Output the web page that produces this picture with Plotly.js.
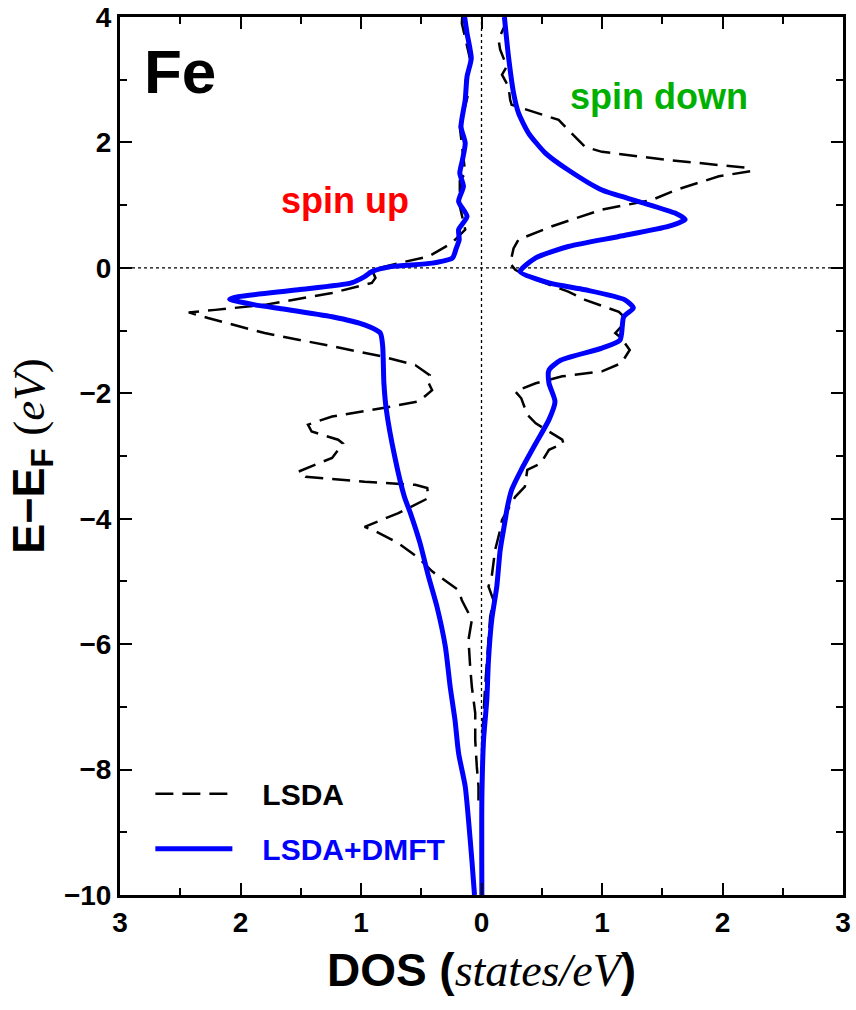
<!DOCTYPE html>
<html>
<head>
<meta charset="utf-8">
<script src="https://cdn.plot.ly/plotly-3.0.1.min.js"></script>
<style>html,body{margin:0;padding:0;background:#fff;}#chart{width:856px;height:1010px;}</style>
</head>
<body>
<div id="chart"></div>
<script>
// ---- Data (energy E-EF in eV, DOS in states/eV; spin-up values are magnitudes, drawn to the left) ----
const xTickVals = [-3, -2, -1, 0, 1, 2, 3];
const xTickText = ['3', '2', '1', '0', '1', '2', '3'];

const lsdaUpE = [4.0, 3.90, 3.32, 2.95, 2.79, 2.25, 1.51, 1.39, 0.98, 0.61, 0.39, 0.18, 0.075, -0.03, -0.16, -0.24, -0.40, -0.59, -0.67, -0.71, -0.80, -1.04, -1.25, -1.41, -1.55, -1.71, -1.79, -1.95, -2.13, -2.24, -2.37, -2.50, -2.61, -2.74, -2.80, -3.03, -3.25, -3.33, -3.41, -3.46, -3.51, -3.67, -3.91, -4.13, -4.20, -4.39, -4.63, -4.84, -5.14, -5.30, -5.61, -5.93, -6.36, -6.68, -7.10, -7.53, -7.95, -8.27, -8.54];
const lsdaUpDos = [0.16, 0.163, 0.094, 0.135, 0.108, 0.18, 0.135, 0.18, 0.18, 0.135, 0.25, 0.44, 0.69, 0.91, 0.88, 0.91, 1.24, 1.80, 2.21, 2.43, 2.27, 1.80, 1.24, 0.83, 0.55, 0.43, 0.45, 0.41, 0.52, 0.83, 1.24, 1.44, 1.41, 1.19, 1.15, 1.24, 1.52, 1.46, 0.97, 0.55, 0.45, 0.44, 0.69, 0.97, 0.88, 0.69, 0.52, 0.41, 0.19, 0.163, 0.08, 0.108, 0.094, 0.08, 0.052, 0.052, 0.039, 0.025, 0.025];

const lsdaDnE = [4.0, 3.88, 3.64, 3.48, 3.21, 3.08, 2.89, 2.68, 2.60, 2.36, 2.20, 2.09, 1.93, 1.85, 1.72, 1.59, 1.54, 1.46, 1.24, 1.08, 0.93, 0.66, 0.45, 0.31, 0.07, -0.03, -0.15, -0.38, -0.51, -0.70, -0.83, -1.04, -1.12, -1.31, -1.52, -1.65, -1.73, -1.84, -1.97, -2.08, -2.34, -2.48, -2.74, -2.80, -2.90, -3.12, -3.22, -3.49, -3.65, -4.02, -4.18, -4.50, -4.92, -5.08, -5.30, -5.56, -5.93, -6.09, -6.68, -7.42];
const lsdaDnDos = [0.20, 0.197, 0.141, 0.155, 0.21, 0.17, 0.224, 0.238, 0.25, 0.64, 0.72, 0.78, 0.86, 1.0, 1.55, 2.23, 2.23, 1.97, 1.61, 1.41, 1.0, 0.58, 0.307, 0.266, 0.238, 0.28, 0.40, 0.72, 0.86, 1.14, 1.21, 1.11, 1.16, 1.23, 1.16, 1.0, 0.67, 0.45, 0.28, 0.33, 0.38, 0.45, 0.67, 0.68, 0.56, 0.49, 0.38, 0.36, 0.28, 0.17, 0.155, 0.113, 0.085, 0.058, 0.10, 0.072, 0.058, 0.052, 0.03, 0.008];

const dmftUpE = [4.0, 3.74, 3.34, 3.05, 2.68, 2.25, 1.99, 1.72, 1.51, 1.30, 1.06, 0.82, 0.61, 0.45, 0.31, 0.16, 0.075, 0.02, -0.06, -0.14, -0.24, -0.35, -0.46, -0.50, -0.59, -0.66, -0.78, -0.91, -1.04, -1.25, -1.84, -2.26, -3.01, -3.65, -3.91, -4.39, -4.92, -5.40, -6.04, -6.68, -7.21, -7.74, -8.27, -8.80, -9.44, -10.0];
const dmftUpDos = [0.14, 0.12, 0.085, 0.12, 0.135, 0.17, 0.135, 0.158, 0.18, 0.15, 0.19, 0.12, 0.19, 0.185, 0.21, 0.24, 0.41, 0.75, 0.91, 0.97, 1.08, 1.52, 2.02, 2.09, 1.88, 1.63, 1.24, 0.97, 0.84, 0.82, 0.81, 0.79, 0.72, 0.64, 0.59, 0.51, 0.44, 0.37, 0.30, 0.26, 0.22, 0.19, 0.135, 0.108, 0.08, 0.058];

const dmftDnE = [4.0, 3.37, 2.79, 2.47, 2.15, 1.83, 1.56, 1.24, 1.06, 0.87, 0.77, 0.66, 0.50, 0.34, 0.16, -0.06, -0.24, -0.35, -0.51, -0.64, -0.78, -1.15, -1.28, -1.47, -1.63, -1.84, -2.13, -2.42, -2.80, -3.22, -3.54, -3.86, -4.02, -4.50, -5.08, -5.61, -6.25, -6.89, -7.53, -8.48, -10.0];
const dmftDnDos = [0.19, 0.224, 0.266, 0.307, 0.39, 0.53, 0.72, 1.0, 1.30, 1.61, 1.69, 1.55, 1.14, 0.72, 0.45, 0.32, 0.56, 0.86, 1.19, 1.26, 1.18, 1.15, 1.0, 0.66, 0.56, 0.56, 0.61, 0.56, 0.45, 0.33, 0.25, 0.21, 0.197, 0.155, 0.127, 0.085, 0.058, 0.044, 0.017, 0.003, 0.003];

const seriesNames = ['LSDA', 'LSDA+DMFT'];

// ---- Styles ----
const FONT = 'Liberation Sans, Arial, Helvetica, sans-serif';
const SERIF = 'Liberation Serif, Times New Roman, serif';
const PAD = '\u00a0\u00a0\u00a0';
const neg = a => a.map(v => -v);
const dashLine = {color: 'black', width: 2.5, dash: '18px,9px'};
const blueLine = {color: '#0000ff', width: 5, shape: 'spline', smoothing: 0.6};

const traces = [
  {x: neg(lsdaUpDos), y: lsdaUpE, type: 'scatter', mode: 'lines', name: PAD + seriesNames[0], legendgroup: 'lsda', showlegend: true, line: dashLine},
  {x: lsdaDnDos, y: lsdaDnE, type: 'scatter', mode: 'lines', name: PAD + seriesNames[0], legendgroup: 'lsda', showlegend: false, line: dashLine},
  {x: neg(dmftUpDos), y: dmftUpE, type: 'scatter', mode: 'lines', name: PAD + seriesNames[1], legendgroup: 'dmft', showlegend: true, line: blueLine},
  {x: dmftDnDos, y: dmftDnE, type: 'scatter', mode: 'lines', name: PAD + seriesNames[1], legendgroup: 'dmft', showlegend: false, line: blueLine}
];

const axisCommon = {
  showline: true, linecolor: 'black', linewidth: 3, mirror: 'allticks',
  ticks: 'inside', ticklen: 12, tickwidth: 2, tickcolor: 'black',
  showgrid: false, zeroline: false,
  tickfont: {family: FONT, size: 28, color: 'black', weight: 'bold'}
};

const layout = {
  width: 856, height: 1010,
  margin: {l: 120, r: 13, t: 17, b: 115},
  paper_bgcolor: 'white', plot_bgcolor: 'white',
  font: {family: FONT, color: 'black'},
  xaxis: Object.assign({}, axisCommon, {
    range: [-3, 3], tickmode: 'array', tickvals: xTickVals, ticktext: xTickText,
    minor: {dtick: 0.5, ticks: 'inside', ticklen: 7, tickwidth: 2, tickcolor: 'black', showgrid: false},
    title: {text: '<b>DOS (</b><span style="font-family:' + SERIF + ';font-weight:normal"><i>states/eV</i></span><b>)</b>',
            font: {family: FONT, size: 46, color: 'black'}, standoff: 18}
  }),
  yaxis: Object.assign({}, axisCommon, {
    range: [-10, 4], dtick: 2, tick0: 0,
    minor: {dtick: 1, ticks: 'inside', ticklen: 7, tickwidth: 2, tickcolor: 'black', showgrid: false},
    title: {text: '<b>E−E<sub>F</sub> </b><span style="font-family:' + SERIF + ';font-weight:normal">(<i>eV</i>)</span>',
            font: {family: FONT, size: 45, color: 'black'}, standoff: 6}
  }),
  shapes: [
    {type: 'line', xref: 'x', yref: 'y', x0: 0, x1: 0, y0: -10, y1: 4, layer: 'below', line: {color: 'black', width: 1.3, dash: 'dot'}},
    {type: 'line', xref: 'x', yref: 'y', x0: -3, x1: 3, y0: 0, y1: 0, layer: 'below', line: {color: 'black', width: 1.3, dash: 'dot'}}
  ],
  annotations: [
    {x: -2.5, y: 3.13, xref: 'x', yref: 'y', text: 'Fe', showarrow: false, xanchor: 'center', yanchor: 'middle',
     font: {family: FONT, size: 62, color: 'black', weight: 'bold'}},
    {x: -1.13, y: 1.07, xref: 'x', yref: 'y', text: 'spin up', showarrow: false, xanchor: 'center', yanchor: 'middle',
     font: {family: FONT, size: 36, color: '#ff0000', weight: 'bold'}},
    {x: 1.47, y: 2.73, xref: 'x', yref: 'y', text: 'spin down', showarrow: false, xanchor: 'center', yanchor: 'middle',
     font: {family: FONT, size: 36, color: '#00b000', weight: 'bold'}}
  ],
  showlegend: true,
  legend: {x: 0.042, y: 0.145, xanchor: 'left', yanchor: 'top', bgcolor: 'rgba(0,0,0,0)',
           font: {family: FONT, size: 30, color: 'black', weight: 'bold'}, itemwidth: 77, tracegroupgap: 13,
           traceorder: 'grouped'}
};

Plotly.newPlot('chart', traces, layout, {displayModeBar: false, staticPlot: true}).then(function () {
  // colour the DMFT legend label blue like the reference
  document.querySelectorAll('.legendtext').forEach(function (t) {
    if (t.textContent.indexOf(seriesNames[1]) >= 0) t.style.fill = '#0000ff';
  });
});
</script>
</body>
</html>
